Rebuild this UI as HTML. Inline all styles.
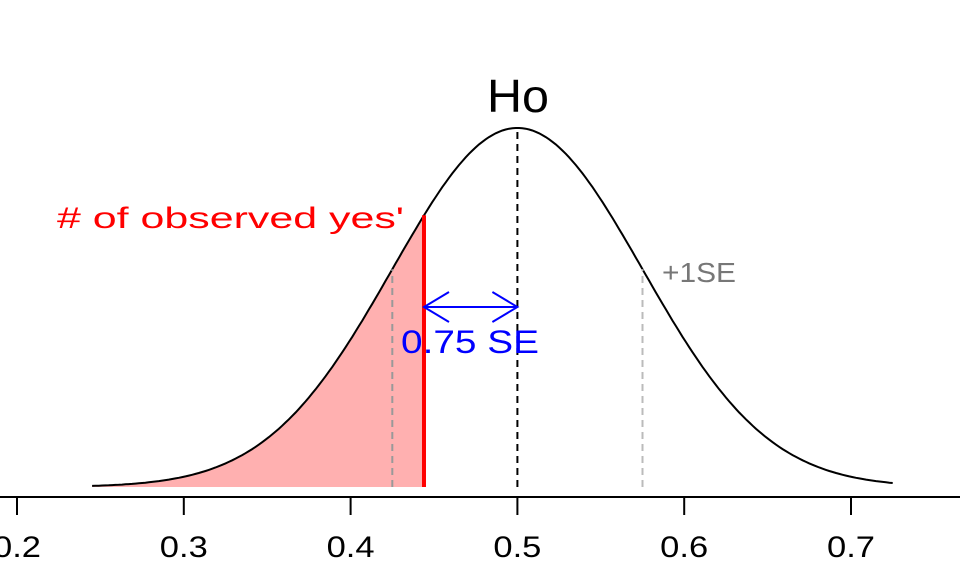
<!DOCTYPE html>
<html><head><meta charset="utf-8"><style>
html,body{margin:0;padding:0;background:#fff;width:960px;height:576px;overflow:hidden}
text{font-family:"Liberation Sans","DejaVu Sans",sans-serif}
</style></head><body>
<svg id="chart" width="960" height="576" xmlns="http://www.w3.org/2000/svg"></svg>
<script>
const meanValue = [0.5];
const seValue = [0.075];
const observedValue = [0.444];
const curveRange = [0.245, 0.725];
const tickValues = [0.2, 0.3, 0.4, 0.5, 0.6, 0.7];
const tickLabels = ["0.2", "0.3", "0.4", "0.5", "0.6", "0.7"];

const svg = document.getElementById('chart');
const NS = 'http://www.w3.org/2000/svg';
const x = v => 17 + (v - 0.2) * 1668;
const y = d => 487 - d * 67.5;
const mu = meanValue[0], sd = seValue[0], obs = observedValue[0];
const dens = v => Math.exp(-0.5 * ((v - mu) / sd) ** 2) / (sd * Math.sqrt(2 * Math.PI));
function mk(tag, attrs, name, text) {
  const e = document.createElementNS(NS, tag);
  for (const k in attrs) e.setAttribute(k, attrs[k]);
  
  
  if (text !== undefined) e.textContent = text;
  svg.appendChild(e);
  return e;
}
let pts = [];
for (let v = curveRange[0]; v <= obs + 1e-9; v += 0.002) pts.push(x(v).toFixed(1) + ',' + y(dens(v)).toFixed(1));
pts.push(x(obs).toFixed(1) + ',' + y(dens(obs)).toFixed(1));
let shade = 'M' + x(curveRange[0]) + ',' + y(0) + ' L' + pts.join(' L') + ' L' + x(obs) + ',' + y(0) + ' Z';
mk('path', {d: shade, fill: '#ffb0b0', stroke: 'none'}, 'shaded-tail');
let cp = [];
for (let v = curveRange[0]; v <= curveRange[1] + 1e-9; v += 0.002) cp.push(x(v).toFixed(1) + ',' + y(dens(v)).toFixed(1));
mk('polyline', {points: cp.join(' '), fill: 'none', stroke: '#000', 'stroke-width': 2}, 'density-curve');
mk('line', {x1: x(mu - sd), x2: x(mu - sd), y1: y(0), y2: y(dens(mu - sd)), stroke: '#999', 'stroke-width': 2, 'stroke-dasharray': '7,5'}, 'minus-se-line');
mk('line', {x1: x(mu + sd), x2: x(mu + sd), y1: y(0), y2: y(dens(mu + sd)), stroke: '#bbb', 'stroke-width': 2, 'stroke-dasharray': '7,5'}, 'plus-se-line');
mk('line', {x1: x(mu), x2: x(mu), y1: y(0), y2: y(dens(mu)), stroke: '#000', 'stroke-width': 2, 'stroke-dasharray': '7,5'}, 'mean-line');
mk('line', {x1: x(obs), x2: x(obs), y1: y(0), y2: y(dens(obs)), stroke: '#ff0000', 'stroke-width': 4}, 'observed-line');
mk('line', {x1: 0, x2: 960, y1: 497, y2: 497, stroke: '#000', 'stroke-width': 2}, 'x-axis-line');
tickValues.forEach((t, i) => {
  mk('line', {x1: x(t), x2: x(t), y1: 497, y2: 515, stroke: '#000', 'stroke-width': 2}, 'x-tick');
  mk('text', {x: x(t) - 24, y: 557, 'font-size': 30, textLength: 48, lengthAdjust: 'spacingAndGlyphs'}, 'x-tick-label', tickLabels[i]);
});
const ay = 307;
mk('line', {x1: x(obs), x2: x(mu), y1: ay, y2: ay, stroke: '#0000ff', 'stroke-width': 2}, 'se-arrow');
mk('polyline', {points: `${x(obs)+25},${ay-15} ${x(obs)},${ay} ${x(obs)+25},${ay+15}`, fill: 'none', stroke: '#0000ff', 'stroke-width': 2}, 'arrow-head-left');
mk('polyline', {points: `${x(mu)-25},${ay-15} ${x(mu)},${ay} ${x(mu)-25},${ay+15}`, fill: 'none', stroke: '#0000ff', 'stroke-width': 2}, 'arrow-head-right');
mk('text', {x: 401, y: 353, 'font-size': 32, fill: '#0000ff', textLength: 138, lengthAdjust: 'spacingAndGlyphs'}, 'se-distance-label', '0.75 SE');
mk('text', {x: 487, y: 112, 'font-size': 46, textLength: 62, lengthAdjust: 'spacingAndGlyphs'}, 'title-ho', 'Ho');
mk('text', {x: 57, y: 228, 'font-size': 30, fill: '#ff0000', textLength: 347, lengthAdjust: 'spacingAndGlyphs'}, 'observed-label', "# of observed yes'");
mk('text', {x: 662, y: 282, 'font-size': 28, fill: '#777', textLength: 74, lengthAdjust: 'spacingAndGlyphs'}, 'plus-se-label', '+1SE');
</script>
</body></html>
